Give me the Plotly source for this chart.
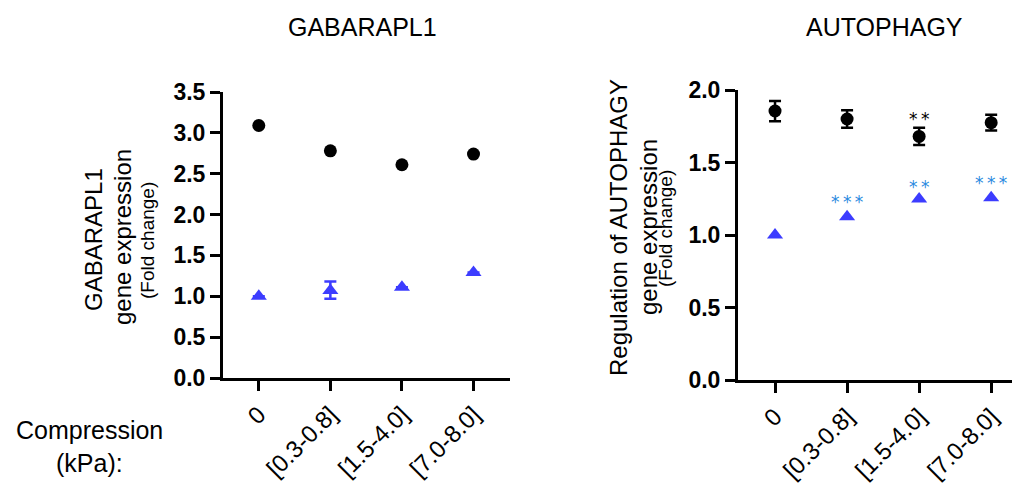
import plotly.graph_objects as go

categories = ["0", "[0.3-0.8]", "[1.5-4.0]", "[7.0-8.0]"]
xpos = [0, 1, 2, 3]

# GABARAPL1 panel
gab_circle = [3.09, 2.78, 2.61, 2.74]
gab_tri = [1.0, 1.07, 1.11, 1.29]
gab_tri_err_plus = [None, 0.11, None, None]
gab_tri_err_minus = [None, 0.10, None, None]

# AUTOPHAGY panel
aut_circle = [1.855, 1.80, 1.68, 1.775]
aut_circle_err = [0.07, 0.06, 0.06, 0.055]
aut_tri = [1.0, 1.126, 1.248, 1.257]

# significance marks
black_stars = [("**", 2, 1.83)]
blue_stars = [("***", 1, 1.255), ("**", 2, 1.36), ("***", 3, 1.385)]

# page has an 8px body margin; the figure fills the rest of the window
OFF = 8
W, H = 1020 - OFF, 487 - OFF
FONT = "Liberation Sans, Arial, sans-serif"
BLUE_TRI = "#3c3cff"
BLUE_STAR = "#2a8ae0"

def px_x(p):
    return (p - OFF) / W

def px_y(p):
    return (487 - p) / H

fig = go.Figure()

# Left panel traces
fig.add_trace(go.Scatter(x=xpos, y=gab_circle, mode="markers", xaxis="x", yaxis="y",
                         marker=dict(symbol="circle", size=13, color="black"), showlegend=False))
fig.add_trace(go.Scatter(x=xpos, y=gab_tri, mode="markers", xaxis="x", yaxis="y",
                         marker=dict(symbol="triangle-up", size=14, color=BLUE_TRI),
                         error_y=dict(type="data", symmetric=False, array=gab_tri_err_plus,
                                      arrayminus=gab_tri_err_minus, color=BLUE_TRI,
                                      thickness=2.5, width=6),
                         showlegend=False))

# Right panel traces
fig.add_trace(go.Scatter(x=xpos, y=aut_circle, mode="markers", xaxis="x2", yaxis="y2",
                         marker=dict(symbol="circle", size=13, color="black"),
                         error_y=dict(type="data", array=aut_circle_err, color="black",
                                      thickness=2.5, width=6),
                         showlegend=False))
fig.add_trace(go.Scatter(x=xpos, y=aut_tri, mode="markers", xaxis="x2", yaxis="y2",
                         marker=dict(symbol="triangle-up", size=14, color=BLUE_TRI),
                         showlegend=False))

axis_common = dict(showline=True, linecolor="black", linewidth=3, showgrid=False,
                   zeroline=False, ticks="outside", tickcolor="black", tickwidth=3,
                   ticklen=10, automargin=False)

xaxis_common = dict(axis_common, tickmode="array", tickvals=xpos, ticktext=categories,
                    tickangle=-45, tickfont=dict(family=FONT, size=24, color="black"))
yaxis_common = dict(axis_common, tickformat=".1f",
                    tickfont=dict(family=FONT, size=23, color="black", weight="bold"))

fig.update_layout(
    width=W, height=H,
    margin=dict(l=0, r=0, t=0, b=0),
    plot_bgcolor="white", paper_bgcolor="white",
    xaxis=dict(xaxis_common, domain=[px_x(223), px_x(510)], range=[-0.5, 3.51], anchor="y"),
    yaxis=dict(yaxis_common, domain=[px_y(378), px_y(92)], range=[0, 3.5],
               tickvals=[0, 0.5, 1, 1.5, 2, 2.5, 3, 3.5], anchor="x"),
    xaxis2=dict(xaxis_common, domain=[px_x(738), 1.0], range=[-0.514, 3.40], anchor="y2"),
    yaxis2=dict(yaxis_common, domain=[px_y(380), px_y(90)], range=[0, 2.0],
                tickvals=[0, 0.5, 1, 1.5, 2], anchor="x2"),
)

ann = []

def label(txt, xc, yc, fs, angle=0):
    ann.append(dict(text=txt, x=px_x(xc), y=px_y(yc), xref="paper", yref="paper",
                    textangle=angle, showarrow=False, xanchor="center", yanchor="middle",
                    font=dict(family=FONT, size=fs, color="black")))

# titles
label("GABARAPL1", 362, 27, 25)
label("AUTOPHAGY", 884, 27, 25)

# y-axis titles
label("GABARAPL1", 93, 240, 24, -90)
label("gene expression", 123, 237, 24, -90)
label("(Fold change)", 147, 241, 19, -90)
label("Regulation of AUTOPHAGY", 618, 228, 24, -90)
label("gene expression", 648, 227, 24, -90)
label("(Fold change)", 665, 229, 19, -90)

# Compression label
label("Compression", 89, 430, 25)
label("(kPa):", 89, 463, 25)

# stars
STAR_FONT = "DejaVu Sans, sans-serif"
for txt, xi, yv in black_stars:
    ann.append(dict(text="\u2009".join(txt), x=xi, y=yv, xref="x2", yref="y2", showarrow=False,
                    xanchor="center", yanchor="middle", yshift=-4,
                    font=dict(family=STAR_FONT, size=17, color="black")))
for txt, xi, yv in blue_stars:
    ann.append(dict(text="\u2009".join(txt), x=xi, y=yv, xref="x2", yref="y2", showarrow=False,
                    xanchor="center", yanchor="middle", yshift=-4,
                    font=dict(family=STAR_FONT, size=17, color=BLUE_STAR)))

fig.update_layout(annotations=ann)
fig.write_html("out.html")
